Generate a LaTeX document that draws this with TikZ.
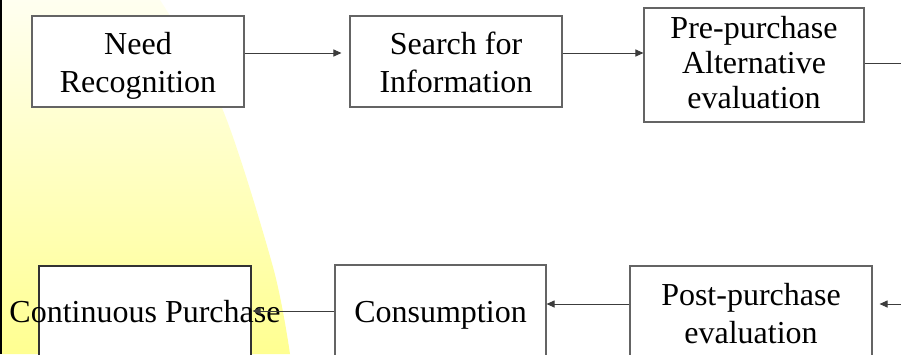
\documentclass[tikz,border=0pt]{standalone}
\usepackage{fontspec}
\setmainfont{Liberation Serif}
\usetikzlibrary{arrows.meta}
\definecolor{boxline}{RGB}{100,100,100}
\definecolor{arrline}{RGB}{60,60,60}
\definecolor{ylo}{RGB}{255,255,240}
\definecolor{yhi}{RGB}{255,255,145}
\tikzset{
  stepbox/.style={draw=boxline, line width=1.1pt, fill=white, inner sep=0pt},
  txt/.style={inner sep=0pt, align=center, font=\fontsize{32}{38}\selectfont},
  conn/.style={draw=arrline, line width=1pt},
  arr/.style={conn, -{Triangle[length=8pt,width=7pt]}}
}
\begin{document}
\begin{tikzpicture}[x=1pt,y=-1pt]
\useasboundingbox (0,0) rectangle (901,354);
\clip (0,0) rectangle (901,354);
\fill[white] (0,0) rectangle (901,354);
% yellow background shape
\shade[top color=ylo, bottom color=yhi] (0,0) -- plot[smooth] coordinates {(160,0) (222,108) (273,267) (290,354)} -- (0,354) -- cycle;
\draw[line width=2pt, black] (1,0) -- (1,354);
% boxes
\node[stepbox, minimum width=212pt, minimum height=91pt] (b1) at (138,61.5) {};
\node[stepbox, minimum width=212pt, minimum height=91pt] (b2) at (456,61.5) {};
\node[stepbox, minimum width=220pt, minimum height=114pt] (b3) at (754,65) {};
\node[stepbox, minimum width=212pt, minimum height=91pt, draw=black!80] (b4) at (145,311.5) {};
\node[stepbox, minimum width=211pt, minimum height=91pt] (b5) at (440.5,310.5) {};
\node[stepbox, minimum width=242pt, minimum height=91pt] (b6) at (751,311.5) {};
% texts
\node[txt] (t1) at (138,65.6) {Need\\Recognition};
\node[txt] (t2) at (456,62) {Search for\\Information};
\node[txt, font=\fontsize{32}{35}\selectfont] (t3) at (754,63) {Pre-purchase\\Alternative\\evaluation};
\node[txt, anchor=base] (t4) at (145,322) {Continuous Purchase};
\node[txt, anchor=base] (t5) at (440.5,322) {Consumption};
\node[txt] (t6) at (751,314) {Post-purchase\\evaluation};
% connectors
\coordinate (e1) at (901,63);
\coordinate (e2) at (901,304);
\draw[arr] ([yshift=8.5pt]b1.east) -- ([xshift=-8pt,yshift=8.5pt]b2.west);
\draw[arr] ([yshift=8.5pt]b2.east) -- ([yshift=8.5pt]b2.east -| b3.west);
\draw[conn] (b3.east |- e1) -- (e1);
\draw[arr] (e2) -- ([xshift=7pt]b6.east |- e2);
\draw[arr] (b6.west |- e2) -- (b5.east |- e2);
\draw[arr] (b5.west |- 0,311) -- ([xshift=1pt]b4.east |- 0,311);
\end{tikzpicture}
\end{document}
